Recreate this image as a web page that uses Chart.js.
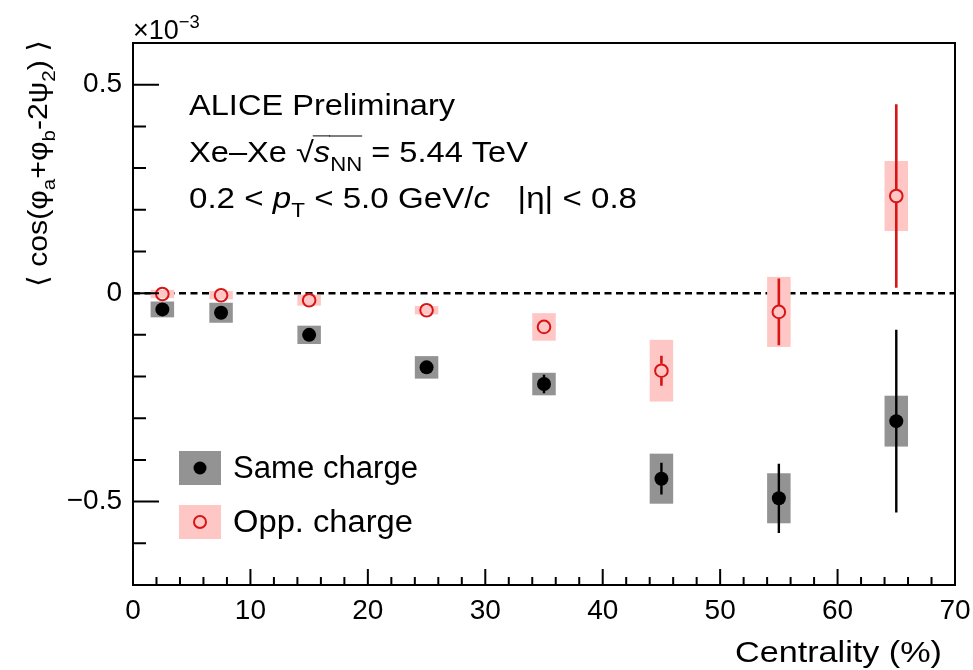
<!DOCTYPE html>
<html>
<head>
<meta charset="utf-8">
<script src="https://cdn.jsdelivr.net/npm/chart.js@4.4.1/dist/chart.umd.min.js"></script>
<style>
  html, body { margin: 0; padding: 0; background: #fff; }
</style>
</head>
<body>
<canvas id="chart" width="973" height="670"></canvas>
<script>
// centrality bins (%) and half widths of the systematic boxes
const centrality = [2.5, 7.5, 15, 25, 35, 45, 55, 65];
const boxHalfWidth = [1, 1, 1, 1, 1, 1, 1, 1];

// <cos(phi_a + phi_b - 2 psi_2)> in units of 1e-3
const sameCharge = [-0.039, -0.047, -0.100, -0.178, -0.218, -0.445, -0.492, -0.307];
const sameStat = [0.004, 0.005, 0.006, 0.010, 0.022, 0.038, 0.083, 0.219];
const sameSyst = [0.019, 0.024, 0.022, 0.027, 0.027, 0.060, 0.060, 0.061];

const oppCharge = [-0.002, -0.005, -0.017, -0.041, -0.081, -0.186, -0.045, 0.233];
const oppStat = [0.004, 0.004, 0.006, 0.008, 0.012, 0.036, 0.080, 0.220];
const oppSyst = [0.010, 0.010, 0.013, 0.010, 0.033, 0.074, 0.084, 0.084];

const xTickLabels = ["0", "10", "20", "30", "40", "50", "60", "70"];
const yTickLabels = { "0.5": "0.5", "0": "0", "-0.5": "\u22120.5" };

const FONT = '"Liberation Sans", Arial, "DejaVu Sans", sans-serif';
const RED = "#d81414";
const PINK = "#ffc6c6";
const GREY = "#939393";

// text with sub/superscripts, squeezed/stretched to a target width
function richText(ctx, parts, x, y, size, target, align) {
  ctx.save();
  const widths = parts.map((p) => {
    const s = p.sub || p.sup ? size * 0.68 : size;
    ctx.font = (p.it ? "italic " : "") + s + "px " + FONT;
    return ctx.measureText(p.t).width + (p.gap || 0);
  });
  const total = widths.reduce((a, b) => a + b, 0);
  const sx = target ? target / total : 1;
  ctx.translate(align === "right" ? x - total * sx : x, y);
  ctx.scale(sx, 1);
  ctx.fillStyle = "#000";
  ctx.strokeStyle = "#000";
  ctx.textBaseline = "alphabetic";
  ctx.textAlign = "left";
  let cx = 0;
  parts.forEach((p, i) => {
    const s = p.sub || p.sup ? size * 0.68 : size;
    ctx.font = (p.it ? "italic " : "") + s + "px " + FONT;
    const dy = p.sub ? size * 0.3 : p.sup ? -size * 0.42 : 0;
    ctx.fillText(p.t, cx, dy);
    if (p.over) {
      ctx.lineWidth = 1;
      ctx.beginPath();
      ctx.moveTo(cx - 1, -size * 0.9);
      ctx.lineTo(cx + widths[i], -size * 0.9);
      ctx.stroke();
    }
    cx += widths[i];
  });
  ctx.restore();
}

const decorations = {
  id: "decorations",
  beforeDatasetsDraw(chart) {
    const { ctx, chartArea: a } = chart;
    const xs = chart.scales.x, ys = chart.scales.y;
    ctx.save();
    // dashed zero line
    ctx.strokeStyle = "#000";
    ctx.lineWidth = 2.5;
    ctx.setLineDash([7, 4.5]);
    ctx.beginPath();
    ctx.moveTo(a.left, ys.getPixelForValue(0));
    ctx.lineTo(a.right, ys.getPixelForValue(0));
    ctx.stroke();
    ctx.setLineDash([]);

    // systematic boxes
    const boxes = (vals, syst, color) => {
      ctx.fillStyle = color;
      vals.forEach((v, i) => {
        const x0 = xs.getPixelForValue(centrality[i] - boxHalfWidth[i]);
        const x1 = xs.getPixelForValue(centrality[i] + boxHalfWidth[i]);
        const y0 = ys.getPixelForValue(v + syst[i]);
        const y1 = ys.getPixelForValue(v - syst[i]);
        ctx.fillRect(x0, y0, x1 - x0, y1 - y0);
      });
    };
    boxes(sameCharge, sameSyst, GREY);
    boxes(oppCharge, oppSyst, PINK);

    // statistical bars, drawn outside the marker
    const bars = (vals, stat, color, width, r) => {
      ctx.strokeStyle = color;
      ctx.lineWidth = width;
      vals.forEach((v, i) => {
        const x = xs.getPixelForValue(centrality[i]);
        const yc = ys.getPixelForValue(v);
        const yt = ys.getPixelForValue(v + stat[i]);
        const yb = ys.getPixelForValue(v - stat[i]);
        ctx.beginPath();
        if (yc - yt > r) { ctx.moveTo(x, yt); ctx.lineTo(x, yc - r); }
        if (yb - yc > r) { ctx.moveTo(x, yc + r); ctx.lineTo(x, yb); }
        ctx.stroke();
      });
    };
    bars(sameCharge, sameStat, "#000", 2.4, 6);
    bars(oppCharge, oppStat, RED, 2.6, 7);
    ctx.restore();
  },
  afterDraw(chart) {
    const { ctx, chartArea: a } = chart;
    const xs = chart.scales.x, ys = chart.scales.y;
    ctx.save();
    ctx.strokeStyle = "#000";
    ctx.lineWidth = 2;
    ctx.strokeRect(a.left, a.top, a.right - a.left, a.bottom - a.top);

    // tick marks inside the frame
    ctx.beginPath();
    ys.ticks.forEach((t) => {
      const y = ys.getPixelForValue(t.value);
      const major = Math.abs(t.value * 2 - Math.round(t.value * 2)) < 1e-6;
      ctx.moveTo(a.left, y);
      ctx.lineTo(a.left + (major ? 26 : 13), y);
    });
    xs.ticks.forEach((t) => {
      const x = xs.getPixelForValue(t.value);
      const major = t.value % 10 === 0;
      ctx.moveTo(x, a.bottom);
      ctx.lineTo(x, a.bottom - (major ? 16 : 8));
    });
    ctx.stroke();

    // exponent
    richText(ctx, [{ t: "\u00d710" }, { t: "\u22123", sup: true }], a.left, 39, 27);

    // y title (rotated)
    ctx.save();
    ctx.translate(47, 287);
    ctx.rotate(-Math.PI / 2);
    richText(ctx, [
      { t: "\u27e8 cos(\u03c6" }, { t: "a", sub: true }, { t: "+\u03c6" }, { t: "b", sub: true },
      { t: "-2\u03c8" }, { t: "2", sub: true }, { t: ") \u27e9" }
    ], 0, 0, 28, 247);
    ctx.restore();

    // x title
    richText(ctx, [{ t: "Centrality (%)" }], 942, 662, 30, 207, "right");

    // header text
    richText(ctx, [{ t: "ALICE Preliminary" }], 189, 115, 29, 266);
    richText(ctx, [
      { t: "Xe\u2013Xe " }, { t: "\u221a" }, { t: "s", it: true, over: true },
      { t: "NN", sub: true, over: true }, { t: " = 5.44 TeV" }
    ], 189, 162, 29, 339);
    richText(ctx, [
      { t: "0.2 < " }, { t: "p", it: true }, { t: "T", sub: true }, { t: " < 5.0 GeV/" },
      { t: "c", it: true }, { t: "   |\u03b7| < 0.8" }
    ], 189, 208, 29, 448);

    // legend
    ctx.fillStyle = GREY;
    ctx.fillRect(179, 451, 42, 34);
    ctx.fillStyle = PINK;
    ctx.fillRect(179, 505, 42, 34);
    ctx.fillStyle = "#000";
    ctx.beginPath();
    ctx.arc(200, 468, 6.5, 0, Math.PI * 2);
    ctx.fill();
    ctx.strokeStyle = RED;
    ctx.lineWidth = 2;
    ctx.beginPath();
    ctx.arc(200, 522, 6, 0, Math.PI * 2);
    ctx.stroke();
    richText(ctx, [{ t: "Same charge" }], 233, 478, 31, 185);
    richText(ctx, [{ t: "Opp. charge" }], 233, 532, 31, 180);
    ctx.restore();
  }
};

new Chart(document.getElementById("chart"), {
  type: "scatter",
  data: {
    datasets: [
      {
        label: "Same charge",
        data: centrality.map((c, i) => ({ x: c, y: sameCharge[i] })),
        pointRadius: 7,
        pointBackgroundColor: "#000",
        pointBorderColor: "#000",
        pointBorderWidth: 0
      },
      {
        label: "Opp. charge",
        data: centrality.map((c, i) => ({ x: c, y: oppCharge[i] })),
        pointRadius: 6.3,
        pointBackgroundColor: "rgba(0,0,0,0)",
        pointBorderColor: RED,
        pointBorderWidth: 2
      }
    ]
  },
  options: {
    responsive: false,
    animation: false,
    layout: { padding: { top: 43, right: 18, left: 0, bottom: 0 } },
    plugins: { legend: { display: false }, tooltip: { enabled: false } },
    scales: {
      x: {
        type: "linear",
        min: 0,
        max: 70,
        grid: { display: false, drawTicks: false },
        border: { display: false },
        ticks: {
          stepSize: 2,
          autoSkip: false,
          maxRotation: 0,
          padding: 9,
          color: "#000",
          font: { family: FONT, size: 28 },
          callback: (v) => (v % 10 === 0 ? xTickLabels[v / 10] : "")
        },
        afterFit: (s) => { s.height = 85; s.paddingLeft = 0; s.paddingRight = 0; }
      },
      y: {
        type: "linear",
        min: -0.7,
        max: 0.6,
        grid: { display: false, drawTicks: false },
        border: { display: false },
        ticks: {
          stepSize: 0.1,
          autoSkip: false,
          padding: 11,
          color: "#000",
          font: { family: FONT, size: 28 },
          callback: (v) => {
            const k = Math.round(v * 2) / 2;
            return Math.abs(v - k) < 1e-6 ? (yTickLabels[String(k)] || "") : "";
          }
        },
        afterFit: (s) => { s.width = 133; s.paddingTop = 0; s.paddingBottom = 0; }
      }
    }
  },
  plugins: [decorations]
});
</script>
</body>
</html>
